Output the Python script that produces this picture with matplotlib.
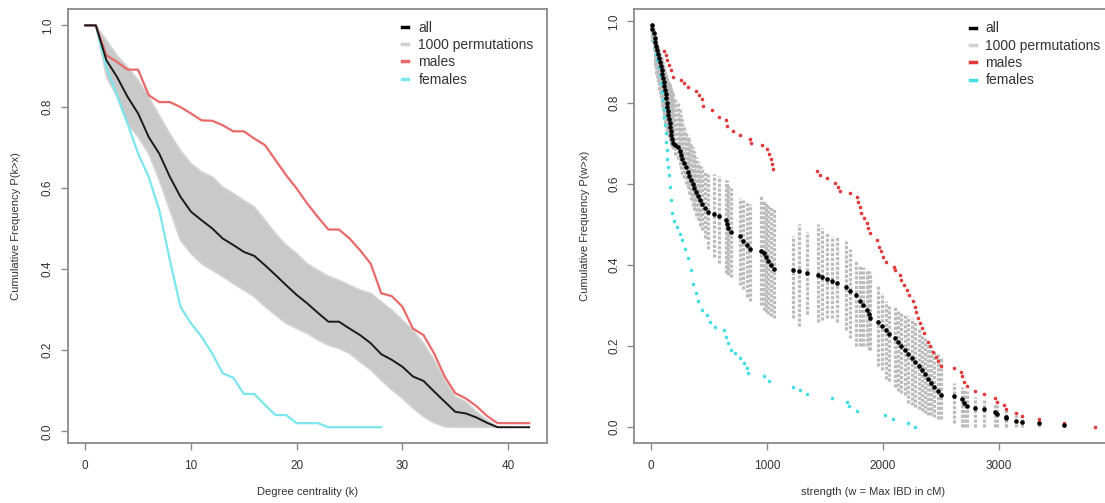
import numpy as np
import matplotlib.pyplot as plt
from matplotlib.lines import Line2D

plt.rcParams['font.family'] = ['Liberation Sans', 'DejaVu Sans']

# ---- left panel: degree centrality (k) ----
k = np.arange(0, 43)
all_k = [1.0, 1.0, 0.914, 0.873, 0.824, 0.783, 0.725, 0.684, 0.627, 0.578,
         0.541, 0.52, 0.5, 0.475, 0.459, 0.442, 0.432, 0.409, 0.385, 0.36,
         0.336, 0.315, 0.292, 0.27, 0.27, 0.253, 0.237, 0.217, 0.19, 0.176,
         0.159, 0.135, 0.124, 0.098, 0.073, 0.048, 0.044, 0.034, 0.021, 0.01,
         0.01, 0.01, 0.01]
male_k = [1.0, 1.0, 0.926, 0.91, 0.891, 0.891, 0.828, 0.811, 0.811, 0.799,
          0.783, 0.766, 0.765, 0.754, 0.739, 0.739, 0.721, 0.705, 0.668, 0.631,
          0.598, 0.561, 0.528, 0.497, 0.497, 0.475, 0.446, 0.413, 0.34, 0.333,
          0.307, 0.253, 0.237, 0.192, 0.135, 0.094, 0.081, 0.062, 0.038, 0.02,
          0.02, 0.02, 0.02]
female_x = np.arange(0, 29)
female_k = [1.0, 1.0, 0.897, 0.828, 0.758, 0.684, 0.627, 0.545, 0.422, 0.307,
            0.266, 0.233, 0.192, 0.143, 0.132, 0.092, 0.092, 0.065, 0.04, 0.04,
            0.02, 0.02, 0.02, 0.01, 0.01, 0.01, 0.01, 0.01, 0.01]
# spread of the 1000 permutation curves (upper / lower edge), k = 0..40
perm_x = np.arange(0, 41)
perm_hi = [1.0, 1.0, 0.963, 0.926, 0.897, 0.865, 0.824, 0.778, 0.733, 0.692,
           0.66, 0.639, 0.627, 0.602, 0.586, 0.569, 0.553, 0.52, 0.487, 0.459,
           0.438, 0.413, 0.397, 0.382, 0.372, 0.36, 0.348, 0.34, 0.319, 0.299,
           0.274, 0.249, 0.217, 0.176, 0.126, 0.085, 0.073, 0.048, 0.028, 0.011,
           0.01]
perm_lo = [1.0, 1.0, 0.873, 0.824, 0.758, 0.725, 0.684, 0.619, 0.545, 0.471,
           0.438, 0.413, 0.397, 0.381, 0.364, 0.348, 0.331, 0.307, 0.286, 0.266,
           0.253, 0.241, 0.225, 0.212, 0.204, 0.192, 0.171, 0.151, 0.126, 0.102,
           0.081, 0.057, 0.036, 0.021, 0.011, 0.01, 0.01, 0.01, 0.01, 0.01,
           0.01]

# ---- right panel: strength (w = Max IBD in cM) ----
all_w = [6, 12, 21, 30, 36, 45, 54, 63, 72, 78, 84, 90, 96, 102, 108, 114, 120,
         126, 132, 135, 141, 144, 150, 153, 159, 165, 168, 174, 180, 186, 210,
         228, 246, 258, 270, 285, 300, 315, 330, 342, 360, 372, 390, 405, 420,
         435, 462, 495, 540, 585, 645, 654, 663, 690, 765, 795, 825, 855, 945,
         975, 990, 1010, 1035, 1060, 1224, 1278, 1341, 1440, 1476, 1515, 1560,
         1605, 1680, 1716, 1770, 1800, 1830, 1860, 1880, 1890, 1956, 1995, 2025,
         2055, 2100, 2130, 2160, 2190, 2220, 2250, 2280, 2310, 2340, 2365, 2385,
         2415, 2445, 2475, 2505, 2616, 2679, 2700, 2724, 2796, 2871, 2970, 2985,
         3060, 3066, 3150, 3201, 3345, 3564]
all_p = [0.99, 0.98, 0.97, 0.96, 0.95, 0.94, 0.93, 0.92, 0.91, 0.90, 0.89, 0.88,
         0.87, 0.86, 0.85, 0.84, 0.83, 0.82, 0.81, 0.80, 0.79, 0.78, 0.77, 0.76,
         0.75, 0.74, 0.73, 0.72, 0.71, 0.70, 0.695, 0.69, 0.68, 0.67, 0.66,
         0.65, 0.64, 0.63, 0.62, 0.61, 0.60, 0.59, 0.58, 0.57, 0.56, 0.55, 0.54,
         0.53, 0.525, 0.52, 0.51, 0.50, 0.49, 0.48, 0.47, 0.46, 0.45, 0.44,
         0.435, 0.43, 0.42, 0.41, 0.40, 0.39, 0.388, 0.384, 0.38, 0.374, 0.37,
         0.366, 0.36, 0.355, 0.345, 0.335, 0.325, 0.31, 0.30, 0.29, 0.28, 0.27,
         0.26, 0.25, 0.24, 0.23, 0.22, 0.21, 0.20, 0.19, 0.18, 0.17, 0.16, 0.15,
         0.14, 0.13, 0.12, 0.11, 0.10, 0.09, 0.08, 0.076, 0.07, 0.06, 0.052,
         0.048, 0.045, 0.038, 0.033, 0.026, 0.022, 0.016, 0.013, 0.01, 0.005]
# range of the permuted values at each strength
wperm_lo = [0.96, 0.95, 0.93, 0.90, 0.89, 0.87, 0.86, 0.85, 0.83, 0.82, 0.81,
            0.80, 0.79, 0.78, 0.77, 0.76, 0.75, 0.745, 0.74, 0.735, 0.73, 0.725,
            0.72, 0.715, 0.71, 0.705, 0.70, 0.695, 0.69, 0.685, 0.67, 0.66,
            0.645, 0.635, 0.625, 0.615, 0.60, 0.59, 0.575, 0.56, 0.545, 0.535,
            0.52, 0.51, 0.495, 0.485, 0.465, 0.44, 0.42, 0.405, 0.38, 0.38,
            0.375, 0.37, 0.35, 0.34, 0.32, 0.31, 0.30, 0.29, 0.285, 0.28, 0.275,
            0.27, 0.27, 0.25, 0.28, 0.26, 0.265, 0.27, 0.27, 0.26, 0.24, 0.22,
            0.20, 0.20, 0.20, 0.20, 0.19, 0.19, 0.15, 0.14, 0.12, 0.115, 0.10,
            0.09, 0.085, 0.08, 0.06, 0.055, 0.05, 0.045, 0.04, 0.035, 0.03, 0.03,
            0.025, 0.02, 0.02, 0.01, 0.0, 0.0, 0.0, 0.0, 0.0, 0.0, 0.0, 0.0, 0.0,
            0.0, 0.0, 0.0, 0.0]
wperm_hi = [0.99, 0.985, 0.98, 0.97, 0.965, 0.955, 0.945, 0.94, 0.93, 0.92,
            0.915, 0.91, 0.905, 0.90, 0.89, 0.885, 0.88, 0.875, 0.87, 0.865,
            0.86, 0.855, 0.85, 0.85, 0.845, 0.84, 0.835, 0.83, 0.83, 0.825, 0.81,
            0.80, 0.785, 0.77, 0.76, 0.745, 0.73, 0.72, 0.71, 0.70, 0.69, 0.68,
            0.665, 0.655, 0.645, 0.64, 0.63, 0.625, 0.625, 0.62, 0.61, 0.61,
            0.60, 0.59, 0.565, 0.56, 0.555, 0.55, 0.57, 0.56, 0.555, 0.55, 0.545,
            0.54, 0.47, 0.50, 0.48, 0.50, 0.49, 0.48, 0.47, 0.47, 0.46, 0.44,
            0.41, 0.40, 0.395, 0.39, 0.385, 0.38, 0.35, 0.33, 0.31, 0.30, 0.295,
            0.29, 0.285, 0.28, 0.275, 0.27, 0.26, 0.245, 0.23, 0.22, 0.21, 0.20,
            0.19, 0.18, 0.17, 0.11, 0.10, 0.095, 0.09, 0.075, 0.068, 0.06, 0.055,
            0.042, 0.04, 0.03, 0.025, 0.015, 0.01]
male_w = [6, 24, 36, 45, 114, 126, 138, 156, 174, 189, 255, 285, 321, 390, 414,
          435, 450, 525, 585, 645, 654, 705, 768, 855, 864, 954, 996, 1020, 1035,
          1044, 1056, 1431, 1455, 1515, 1590, 1614, 1629, 1716, 1779, 1788, 1800,
          1815, 1836, 1860, 1875, 1890, 1950, 1965, 1980, 2001, 2025, 2094, 2106,
          2145, 2160, 2184, 2205, 2229, 2259, 2274, 2286, 2304, 2319, 2340, 2355,
          2385, 2406, 2430, 2454, 2475, 2499, 2616, 2670, 2679, 2700, 2724, 2796,
          2871, 2964, 2985, 3045, 3066, 3150, 3201, 3345, 3564, 3828]
male_p = [0.99, 0.97, 0.95, 0.937, 0.927, 0.916, 0.904, 0.892, 0.879, 0.863,
          0.855, 0.847, 0.837, 0.829, 0.819, 0.808, 0.792, 0.782, 0.765, 0.756,
          0.742, 0.73, 0.72, 0.711, 0.701, 0.695, 0.685, 0.673, 0.66, 0.648,
          0.637, 0.631, 0.621, 0.613, 0.602, 0.591, 0.582, 0.576, 0.566, 0.554,
          0.542, 0.527, 0.515, 0.503, 0.49, 0.478, 0.461, 0.445, 0.433, 0.42,
          0.408, 0.395, 0.387, 0.375, 0.363, 0.35, 0.338, 0.326, 0.31, 0.297,
          0.285, 0.268, 0.256, 0.244, 0.231, 0.211, 0.199, 0.186, 0.174, 0.164,
          0.152, 0.145, 0.137, 0.125, 0.112, 0.102, 0.09, 0.081, 0.071, 0.063,
          0.055, 0.044, 0.036, 0.028, 0.02, 0.01, 0.0]
female_w = [6, 15, 24, 36, 45, 54, 66, 75, 84, 90, 99, 108, 114, 120, 126, 132,
            135, 141, 150, 156, 165, 171, 180, 195, 225, 246, 270, 294, 315, 345,
            360, 390, 405, 435, 480, 504, 555, 630, 645, 660, 690, 720, 765, 804,
            825, 840, 975, 1020, 1224, 1284, 1341, 1560, 1686, 1710, 1779, 2016,
            2085, 2220, 2280]
female_p = [0.985, 0.97, 0.953, 0.937, 0.92, 0.904, 0.888, 0.867, 0.847, 0.826,
            0.806, 0.785, 0.765, 0.744, 0.724, 0.703, 0.683, 0.662, 0.642, 0.621,
            0.592, 0.56, 0.527, 0.507, 0.494, 0.477, 0.461, 0.44, 0.416, 0.387,
            0.354, 0.33, 0.31, 0.289, 0.277, 0.26, 0.248, 0.24, 0.223, 0.207,
            0.19, 0.182, 0.17, 0.157, 0.145, 0.133, 0.125, 0.114, 0.1, 0.092,
            0.081, 0.071, 0.063, 0.052, 0.041, 0.03, 0.02, 0.01, 0.0]

labels = ['all', '1000 permutations', 'males', 'females']
text_col = '#333333'
frame_col = '#8a8a8a'


def style_axes(ax):
    for s in ax.spines.values():
        s.set_color(frame_col)
        s.set_linewidth(1.3)
    ax.tick_params(colors=frame_col, labelcolor=text_col, length=5, width=1.0,
                   labelsize=8.5, direction='out')
    ax.tick_params(axis='x', pad=7)
    ax.tick_params(axis='y', pad=5)
    ax.set_yticks([0.0, 0.2, 0.4, 0.6, 0.8, 1.0])
    ax.set_yticklabels(['0.0', '0.2', '0.4', '0.6', '0.8', '1.0'],
                       rotation=90, va='center')


fig = plt.figure(figsize=(11.05, 5.03), dpi=100)

# left panel
ax1 = fig.add_axes([0.0611, 0.1187, 0.4339, 0.8628])
ax1.fill_between(perm_x, perm_lo, perm_hi, color='#c9c9c9', lw=0)
ax1.plot(perm_x, perm_hi, color='#d4d4d4', lw=1.2)
ax1.plot(perm_x, perm_lo, color='#d4d4d4', lw=1.2)
ax1.plot(female_x, female_k, color='#7be6ec', lw=1.6)
ax1.plot(k, male_k, color='#e86a6a', lw=1.6)
ax1.plot(k, all_k, color='#1a1a1a', lw=1.4)
ax1.set_xlim(-1.68, 43.68)
ax1.set_ylim(-0.0296, 1.0396)
ax1.set_xticks([0, 10, 20, 30, 40])
style_axes(ax1)
ax1.set_xlabel('Degree centrality (k)', fontsize=8, color=text_col)
ax1.set_ylabel('Cumulative Frequency P(k>x)', fontsize=8, color=text_col)
ax1.xaxis.set_label_coords(0.5, -0.112)
ax1.yaxis.set_label_coords(-0.108, 0.5)
ax1.xaxis.label.set_va('center')
ax1.yaxis.label.set_va('center')

h1 = [Line2D([], [], color=c, lw=2.5) for c in ['#000000', '#cfcfcf', '#e86a6a', '#7be6ec']]
ax1.legend(h1, labels, loc='upper left', bbox_to_anchor=(0.697, 0.974),
           frameon=False, handlelength=0.45, handletextpad=0.75,
           labelspacing=0.24, borderpad=0, borderaxespad=0, fontsize=10,
           labelcolor=text_col)

# right panel
ax2 = fig.add_axes([0.5738, 0.1187, 0.4326, 0.8628])
ax2.vlines(all_w, wperm_lo, wperm_hi, color='#bcbcbc', lw=2.3,
           linestyles=(0, (1, 0.5)))
ax2.plot(female_w, female_p, 'o', color='#45dde6', ms=2.6, mec='none')
ax2.plot(male_w, male_p, 'o', color='#e23a3a', ms=2.6, mec='none')
ax2.plot(all_w, all_p, 'o', color='#000000', ms=3.3, mec='none')
ax2.set_xlim(-147, 3977)
ax2.set_ylim(-0.0396, 1.0296)
ax2.set_xticks([0, 1000, 2000, 3000])
style_axes(ax2)
ax2.set_xlabel('strength (w = Max IBD in cM)', fontsize=8, color=text_col)
ax2.set_ylabel('Cumulative Frequency P(w>x)', fontsize=8, color=text_col)
ax2.xaxis.set_label_coords(0.5, -0.112)
ax2.yaxis.set_label_coords(-0.102, 0.5)
ax2.xaxis.label.set_va('center')
ax2.yaxis.label.set_va('center')

h2 = [Line2D([], [], color=c, lw=2.5) for c in ['#000000', '#cfcfcf', '#e23a3a', '#45dde6']]
ax2.legend(h2, labels, loc='upper left', bbox_to_anchor=(0.703, 0.972),
           frameon=False, handlelength=0.4, handletextpad=0.7,
           labelspacing=0.24, borderpad=0, borderaxespad=0, fontsize=10,
           labelcolor=text_col)

fig.savefig('out.png', dpi=100)
